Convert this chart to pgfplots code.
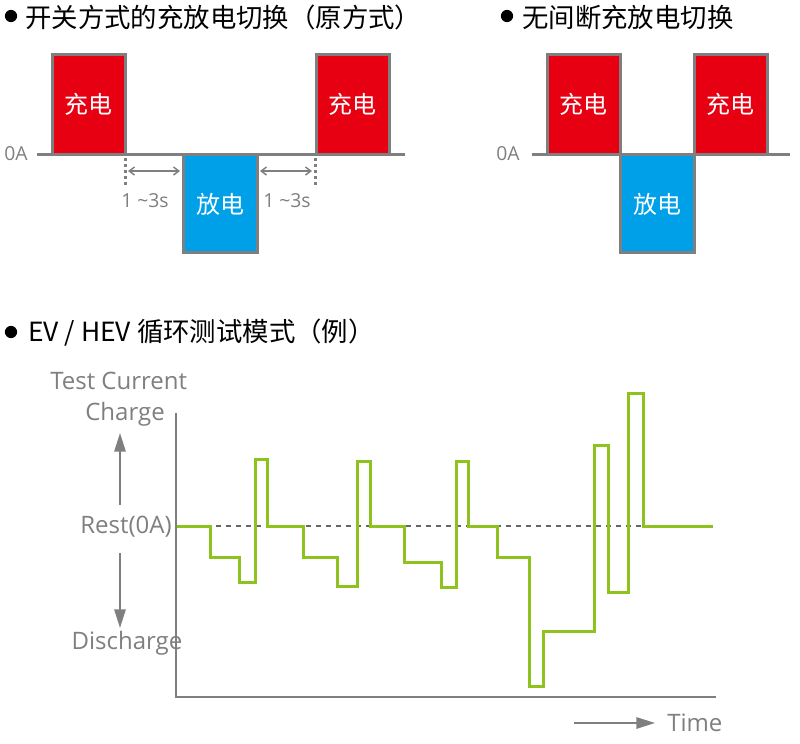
\documentclass[border=0pt]{standalone}
\usepackage{pgfplots}
\pgfplotsset{compat=1.18}
\usetikzlibrary{arrows.meta}
\usepackage{fontspec}
\setmainfont{Open Sans}
\newfontfamily\cjk{Noto Sans CJK SC}
\definecolor{cred}{HTML}{E60012}
\definecolor{cblue}{HTML}{00A0E9}
\definecolor{cgreen}{HTML}{8DC21F}
\definecolor{cgray}{HTML}{7F7F7F}
\definecolor{dgray}{HTML}{666666}
\begin{document}
\begin{tikzpicture}
\begin{axis}[at={(0,0)}, anchor=south west, scale only axis,
  width=600pt, height=557.25pt, xmin=0, xmax=800, ymin=0, ymax=743,
  y dir=reverse, hide axis, clip=false]
\path (axis cs:0,0) rectangle (axis cs:800,743);
% ---------- titles ----------
\fill (axis cs:11,16) circle (4.6pt);
\node[anchor=west, inner sep=0pt, font=\cjk\fontsize{19.8}{19.8}\selectfont] at (axis cs:25,17) {开关方式的充放电切换（原方式）};
\fill (axis cs:507,16) circle (4.6pt);
\node[anchor=west, inner sep=0pt, font=\cjk\fontsize{19.8}{19.8}\selectfont] at (axis cs:522,17) {无间断充放电切换};
\fill (axis cs:11,332) circle (4.6pt);
\node[anchor=west, inner sep=0pt, font=\cjk\fontsize{19.8}{19.8}\selectfont] at (axis cs:28,333) {EV / HEV 循环测试模式（例）};
% ---------- top left: switched charge/discharge ----------
\addplot[draw=cgray, fill=cred, line width=2.25pt, line join=miter] coordinates {(52,154) (52,54) (125,54) (125,154) (52,154)};
\addplot[draw=cgray, fill=cblue, line width=2.25pt, line join=miter] coordinates {(183,154) (183,252) (257,252) (257,154) (183,154)};
\addplot[draw=cgray, fill=cred, line width=2.25pt, line join=miter] coordinates {(316,154) (316,54) (389,54) (389,154) (316,154)};
\addplot[draw=cgray, line width=2.25pt] coordinates {(37,154) (405,154)};
\addplot[draw=cgray, line width=2.25pt, dash pattern=on 2.25pt off 2.25pt] coordinates {(125,158) (125,187)};
\addplot[draw=cgray, line width=2.25pt, dash pattern=on 2.25pt off 2.25pt] coordinates {(315,158) (315,187)};
\draw[cgray, line width=1.1pt, {Straight Barb[length=4pt,width=6pt]}-{Straight Barb[length=4pt,width=6pt]}] (axis cs:128,171) -- (axis cs:180,171);
\draw[cgray, line width=1.1pt, {Straight Barb[length=4pt,width=6pt]}-{Straight Barb[length=4pt,width=6pt]}] (axis cs:260,171) -- (axis cs:312,171);
\node[text=cgray, inner sep=0pt, font=\fontsize{14.5}{14.5}\selectfont] at (axis cs:145,201) {1 \textasciitilde 3s};
\node[text=cgray, inner sep=0pt, font=\fontsize{14.5}{14.5}\selectfont] at (axis cs:287,201) {1 \textasciitilde 3s};
\node[text=cgray, anchor=west, inner sep=0pt, font=\fontsize{14.5}{14.5}\selectfont] at (axis cs:4,154) {0A};
\node[text=white, inner sep=0pt, font=\cjk\fontsize{18}{18}\selectfont] at (axis cs:88.5,104) {充电};
\node[text=white, inner sep=0pt, font=\cjk\fontsize{18}{18}\selectfont] at (axis cs:220,204) {放电};
\node[text=white, inner sep=0pt, font=\cjk\fontsize{18}{18}\selectfont] at (axis cs:352.5,104) {充电};
% ---------- top right: seamless switching ----------
\addplot[draw=cgray, fill=cred, line width=2.25pt, line join=miter] coordinates {(547,154) (547,54) (620,54) (620,154) (547,154)};
\addplot[draw=cgray, fill=cblue, line width=2.25pt, line join=miter] coordinates {(620,154) (620,252) (694,252) (694,154) (620,154)};
\addplot[draw=cgray, fill=cred, line width=2.25pt, line join=miter] coordinates {(694,154) (694,54) (767,54) (767,154) (694,154)};
\addplot[draw=cgray, line width=2.25pt] coordinates {(532,154) (790,154)};
\node[text=cgray, anchor=west, inner sep=0pt, font=\fontsize{14.5}{14.5}\selectfont] at (axis cs:496,154) {0A};
\node[text=white, inner sep=0pt, font=\cjk\fontsize{18}{18}\selectfont] at (axis cs:583.5,104) {充电};
\node[text=white, inner sep=0pt, font=\cjk\fontsize{18}{18}\selectfont] at (axis cs:657,204) {放电};
\node[text=white, inner sep=0pt, font=\cjk\fontsize{18}{18}\selectfont] at (axis cs:730.5,104) {充电};
% ---------- bottom: EV / HEV cycle ----------
\addplot[draw=dgray, line width=1.5pt, dash pattern=on 4pt off 3.5pt] coordinates {(176,526) (642,526)};
\addplot[draw=cgreen, line width=2.25pt, const plot] coordinates {
 (176,526) (210,557) (239,582) (255,459) (267,526)
 (303,557) (337,586) (357,461) (370,526)
 (404,562) (441,587) (456,461) (468,526)
 (497,557) (529,686) (543,631) (594,445) (608,592) (628,393) (643,526) (713,526)};
\draw[cgray, line width=1.5pt] (axis cs:176,413) -- (axis cs:176,697) -- (axis cs:716,697);
\draw[cgray, line width=1.5pt, -{Triangle[length=14pt,width=8.5pt]}] (axis cs:120,505) -- (axis cs:120,433);
\draw[cgray, line width=1.5pt, -{Triangle[length=14pt,width=8.5pt]}] (axis cs:120,553) -- (axis cs:120,628);
\draw[cgray, line width=1.5pt, -{Triangle[length=14pt,width=8.5pt]}] (axis cs:574,723) -- (axis cs:655,723);
\node[text=cgray, anchor=west, inner sep=0pt, font=\fontsize{18}{18}\selectfont] at (axis cs:50,381) {Test Current};
\node[text=cgray, inner sep=0pt, font=\fontsize{18}{18}\selectfont] at (axis cs:125,414) {Charge};
\node[text=cgray, anchor=east, inner sep=0pt, font=\fontsize{18}{18}\selectfont] at (axis cs:172,527) {Rest(0A)};
\node[text=cgray, inner sep=0pt, font=\fontsize{18}{18}\selectfont] at (axis cs:127,643) {Discharge};
\node[text=cgray, anchor=west, inner sep=0pt, font=\fontsize{18}{18}\selectfont] at (axis cs:667,723) {Time};
\end{axis}
\end{tikzpicture}
\end{document}
